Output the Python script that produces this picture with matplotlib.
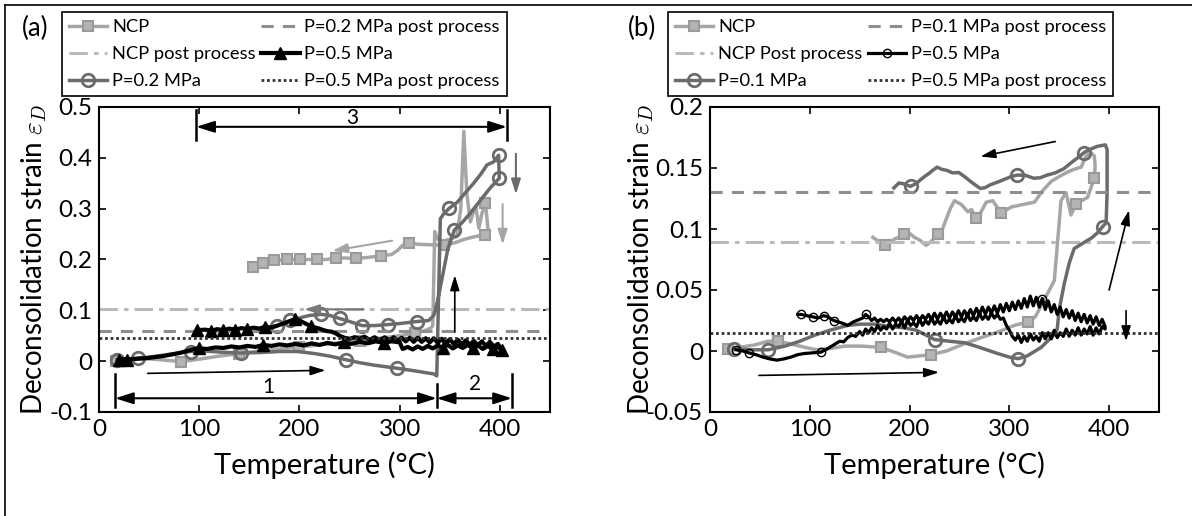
import numpy as np
import matplotlib
matplotlib.use('Agg')
import matplotlib.pyplot as plt
from matplotlib.lines import Line2D

plt.rcParams['font.family'] = ['Lato', 'DejaVu Sans']
plt.rcParams['mathtext.fontset'] = 'cm'

# ---------------- panel (a) data ----------------
# NCP
ncp_a_heat_T = [17, 30, 45, 60, 82, 100, 120, 140, 160, 180, 200, 220, 240, 260, 280, 300, 315, 325, 331,
                333, 335, 338, 342, 350, 357, 361, 364, 367, 370.5, 373, 376, 379, 382, 385.5, 388.7]
ncp_a_heat_y = [0.0, 0.002, 0.005, 0.003, -0.001, 0.004, 0.01, 0.015, 0.02, 0.024, 0.028, 0.032, 0.036, 0.04,
                0.045, 0.05, 0.055, 0.06, 0.065, 0.07, 0.255, 0.24, 0.235, 0.24, 0.245, 0.3, 0.452, 0.33, 0.274,
                0.29, 0.305, 0.262, 0.29, 0.312, 0.249]
ncp_a_cool_T = [385.5, 375, 365, 355, 344, 330, 318, 309, 303, 298, 292, 281, 268, 256, 246, 236, 227, 218,
                210, 201, 195, 188, 181, 175, 169, 164, 158, 154]
ncp_a_cool_y = [0.249, 0.245, 0.24, 0.233, 0.228, 0.229, 0.23, 0.233, 0.228, 0.218, 0.21, 0.207, 0.204, 0.202,
                0.203, 0.203, 0.2, 0.2, 0.2, 0.2, 0.2, 0.2, 0.199, 0.199, 0.196, 0.194, 0.19, 0.185]
ncp_a_mk_heat = [17, 82, 140, 200, 260, 320, 385.5]
ncp_a_mk_cool = [385.5, 344, 309, 281, 256, 236, 218, 201, 188, 175, 164, 154]

# P = 0.2 MPa
p02_heat_T = [17.9, 28, 38.5, 50, 65, 80, 91.6, 105, 120, 141.4, 160, 180, 198, 215, 230, 246, 260, 275, 297.5,
              315, 327, 334, 337, 338.5, 340.6, 344, 349.6, 357.2, 365, 373.8, 381, 387.1, 393.7, 398.7]
p02_heat_y = [0.003, 0.004, 0.006, 0.008, 0.012, 0.016, 0.019, 0.02, 0.018, 0.016, 0.017, 0.019, 0.019, 0.015,
              0.01, 0.003, -0.003, -0.008, -0.014, -0.019, -0.023, -0.025, -0.029, 0.1, 0.28, 0.29, 0.301, 0.312,
              0.33, 0.35, 0.368, 0.386, 0.392, 0.405]
p02_cool_T = [399.4, 390, 380, 370, 362, 354.6, 348, 343, 338, 334, 329, 317.4, 300, 288, 275, 262.6, 250, 240,
              230, 221.8, 210, 200, 191, 184, 178, 171]
p02_cool_y = [0.36, 0.34, 0.315, 0.29, 0.272, 0.258, 0.22, 0.17, 0.12, 0.09, 0.08, 0.078, 0.074, 0.072, 0.07,
              0.07, 0.078, 0.084, 0.09, 0.092, 0.09, 0.085, 0.08, 0.075, 0.07, 0.067]
p02_mk_heat = [17.9, 38.5, 91.6, 141.4, 246, 297.5, 349.6, 398.7]
p02_mk_cool = [399.4, 354.6, 317.4, 288, 262.6, 240, 221.8, 191, 178]

# P = 0.5 MPa (a)
p05a_heat_T = [20, 24, 28, 33, 40, 48, 56, 64, 72, 80, 88, 95, 100, 108, 116, 124, 132, 140, 148, 156, 164, 172,
               180, 188, 196, 204, 212, 220, 228, 236, 244, 252, 260, 268, 276, 284, 292, 300, 303, 308, 313, 318,
               323, 328, 333, 338, 343, 348, 353, 358, 363, 368, 373, 378, 383, 388, 393, 398, 402]
p05a_heat_y = [0.002, 0.004, 0.003, 0.004, 0.005, 0.006, 0.008, 0.01, 0.013, 0.016, 0.02, 0.024, 0.025, 0.024,
               0.027, 0.026, 0.029, 0.027, 0.03, 0.028, 0.032, 0.03, 0.033, 0.031, 0.034, 0.031, 0.035, 0.032,
               0.036, 0.033, 0.037, 0.034, 0.038, 0.035, 0.039, 0.036, 0.039, 0.037, 0.024, 0.028, 0.023, 0.029,
               0.024, 0.03, 0.025, 0.031, 0.026, 0.032, 0.025, 0.031, 0.026, 0.032, 0.025, 0.031, 0.024, 0.03,
               0.023, 0.028, 0.022]
p05a_cool_T = [402, 398, 394, 390, 386, 382, 378, 374, 370, 366, 362, 358, 354, 350, 346, 342, 338, 334, 330,
               326, 322, 318, 314, 310, 306, 302, 298, 294, 290, 285, 280, 275, 270, 265, 260, 255, 250, 245, 240,
               236, 232, 228, 224, 220, 216, 212, 208, 204, 200, 196, 192, 188, 184, 178, 172, 166, 160, 154, 148,
               142, 136, 130, 124, 118, 112, 106, 98]
p05a_cool_y = [0.022, 0.034, 0.028, 0.038, 0.03, 0.039, 0.031, 0.04, 0.032, 0.041, 0.033, 0.042, 0.034, 0.043,
               0.035, 0.044, 0.036, 0.045, 0.037, 0.045, 0.038, 0.046, 0.038, 0.046, 0.039, 0.046, 0.04, 0.047,
               0.04, 0.047, 0.041, 0.047, 0.042, 0.048, 0.044, 0.047, 0.044, 0.046, 0.05, 0.055, 0.058, 0.059,
               0.061, 0.064, 0.066, 0.069, 0.072, 0.076, 0.08, 0.083, 0.08, 0.077, 0.074, 0.07, 0.066, 0.068,
               0.064, 0.066, 0.063, 0.065, 0.062, 0.064, 0.061, 0.063, 0.06, 0.062, 0.061]
p05a_mk_heat = [20, 28, 100, 164, 244, 284, 343, 373, 393, 402]
p05a_mk_cool = [98, 112, 124, 136, 148, 166, 196, 212]

# post process levels (a)
ncp_post_a = 0.102
p02_post = 0.059
p05_post_a = 0.045

# ---------------- panel (b) data ----------------
ncp_b_heat_T = [18, 30, 45, 58, 68, 80, 95, 107, 120, 135, 151.6, 171, 185, 198, 210, 221, 237, 255, 272, 290,
                305, 318.4, 326, 335.1, 345.1, 351.8, 356.8, 361.8, 366.8, 372, 378.4, 385.1, 386, 385.1]
ncp_b_heat_y = [0.0016, 0.003, 0.005, 0.008, 0.008, 0.006, 0.003, 0.001, 0.002, 0.004, 0.004, 0.003, -0.001,
                -0.005, -0.004, -0.003, 0.0, 0.006, 0.011, 0.016, 0.021, 0.0238, 0.028, 0.0421, 0.0578, 0.1232,
                0.1298, 0.1115, 0.1206, 0.123, 0.1259, 0.1416, 0.152, 0.16]
ncp_b_cool_T = [381.8, 377, 372, 365, 358.6, 350, 341.9, 333, 325.2, 313, 301.8, 291.8, 283.4, 276.8, 271, 266.7,
                262, 258.4, 252, 245, 241, 238.3, 233, 228.3, 222, 216.6, 210, 204.9, 199, 194.9, 189, 184.9,
                179, 174.9, 169, 163.2]
ncp_b_cool_y = [0.1625, 0.16, 0.1507, 0.149, 0.1468, 0.143, 0.139, 0.131, 0.122, 0.12, 0.118, 0.1128, 0.1232,
                0.122, 0.113, 0.1089, 0.116, 0.1141, 0.12, 0.1232, 0.117, 0.1115, 0.1, 0.0958, 0.09, 0.0866,
                0.091, 0.0932, 0.097, 0.0958, 0.093, 0.0918, 0.088, 0.0866, 0.09, 0.0932]
ncp_b_mk_heat = [18, 68, 171, 221, 318.4, 366.8, 385.1]
ncp_b_mk_cool = [291.8, 266.7, 228.3, 194.9, 174.9]

# P = 0.1 MPa
p01_heat_T = [24.4, 40, 58.4, 75, 90, 105, 120, 138, 150, 165, 180, 195, 207, 225, 240, 255, 270, 288, 300, 309,
              318, 332, 345, 348, 350, 355, 360, 365, 375, 383, 388.5, 393.5, 397, 398]
p01_heat_y = [0.0016, 0.001, 0.001, 0.004, 0.008, 0.013, 0.017, 0.021, 0.022, 0.022, 0.02, 0.019, 0.017, 0.0094,
              0.008, 0.0068, 0.003, -0.002, -0.005, -0.0063, -0.004, 0.003, 0.0135, 0.018, 0.034, 0.055, 0.072,
              0.084, 0.089, 0.093, 0.097, 0.102, 0.105, 0.13]
p01_cool_T = [398, 396.3, 388, 380, 374.6, 371.3, 363, 354.6, 346, 337.9, 331, 324.5, 316, 307.8, 302, 297.8,
              290, 281.1, 276, 271.1, 266, 261.1, 255, 249.4, 243, 237.7, 232, 227.7, 223, 219.4, 215, 211, 206,
              201, 197, 194.3, 189.3, 184.3]
p01_cool_y = [0.165, 0.169, 0.1677, 0.165, 0.1625, 0.16, 0.155, 0.1494, 0.146, 0.1442, 0.142, 0.1416, 0.144,
              0.1442, 0.143, 0.1416, 0.139, 0.1363, 0.134, 0.1332, 0.136, 0.139, 0.143, 0.1463, 0.146, 0.148,
              0.149, 0.1507, 0.148, 0.1455, 0.143, 0.1403, 0.137, 0.135, 0.136, 0.137, 0.1377, 0.1337]
p01_mk_heat = [24.4, 58.4, 225, 309, 393.5]
p01_mk_cool = [374.6, 307.8, 201]

# P = 0.5 MPa (b)
p05b_heat_T = [26, 33, 39, 46, 53, 60, 67, 74, 81, 88, 95, 103, 111, 118, 124, 130, 134, 138, 142, 146,
               150, 153, 156, 159, 162, 165, 168, 171, 174, 177, 180, 183, 186, 189, 192, 195, 198, 201, 204,
               207, 210, 213, 216, 219, 222, 225, 228, 231, 234, 237, 240, 243, 246, 249, 252, 255, 258, 261,
               264, 267, 270, 273, 276, 279, 282, 285, 288, 291, 294, 297, 300, 303, 306, 309, 312, 315, 318,
               321, 324, 327, 330, 333, 336, 339, 342, 345, 348, 351, 354, 357, 360, 363, 366, 369, 372, 375,
               378, 381, 384, 387, 390, 393, 396]
p05b_heat_y = [0.001, 0.0, -0.0016, -0.003, -0.005, -0.0065, -0.0075, -0.0065, -0.005, -0.003, -0.002, -0.0015,
               -0.001, 0.002, 0.005, 0.008, 0.0075, 0.011, 0.013, 0.012,
               0.016, 0.013, 0.018, 0.015, 0.019, 0.016, 0.021, 0.017, 0.02, 0.018, 0.023, 0.018, 0.022, 0.02,
               0.024, 0.019, 0.025, 0.021, 0.023, 0.02, 0.026, 0.021, 0.025, 0.022, 0.027, 0.022, 0.025, 0.022,
               0.028, 0.023, 0.026, 0.023, 0.029, 0.024, 0.027, 0.024, 0.03, 0.025, 0.028, 0.025, 0.031, 0.026,
               0.029, 0.026, 0.031, 0.027, 0.03, 0.026, 0.027, 0.021, 0.017, 0.012, 0.009, 0.013, 0.007, 0.012,
               0.008, 0.014, 0.009, 0.012, 0.008, 0.015, 0.01, 0.015, 0.01, 0.017, 0.011, 0.015, 0.012, 0.018,
               0.012, 0.017, 0.013, 0.019, 0.013, 0.018, 0.014, 0.02, 0.013, 0.019, 0.014, 0.02, 0.018]
p05b_cool_T = [396, 393, 390, 387, 384, 381, 378, 375, 372, 369, 366, 363, 360, 357, 354, 351, 348, 345, 342,
               339, 336, 333, 330, 327, 324, 321, 318, 315, 312, 309, 306, 303, 300, 297, 294, 291, 288, 285,
               282, 279, 276, 273, 270, 267, 264, 261, 258, 255, 252, 249, 246, 243, 240, 237, 234, 231, 228,
               225, 222, 219, 216, 213, 210, 207, 204, 201, 198, 195, 192, 189, 186, 183, 180, 177, 174, 171,
               168, 165, 162, 159, 156, 153, 150, 144, 138, 132, 124, 118, 114, 108, 103, 97, 91, 88]
p05b_cool_y = [0.02, 0.026, 0.021, 0.028, 0.022, 0.029, 0.023, 0.03, 0.024, 0.031, 0.025, 0.033, 0.027, 0.034,
               0.028, 0.036, 0.03, 0.038, 0.032, 0.041, 0.034, 0.043, 0.036, 0.044, 0.037, 0.045, 0.036, 0.043,
               0.035, 0.041, 0.034, 0.04, 0.033, 0.039, 0.032, 0.038, 0.031, 0.037, 0.031, 0.036, 0.03, 0.036,
               0.03, 0.035, 0.029, 0.034, 0.029, 0.033, 0.028, 0.033, 0.028, 0.032, 0.027, 0.032, 0.027, 0.031,
               0.026, 0.031, 0.026, 0.03, 0.026, 0.029, 0.025, 0.029, 0.025, 0.028, 0.025, 0.028, 0.024, 0.027,
               0.024, 0.027, 0.024, 0.026, 0.024, 0.026, 0.024, 0.027, 0.025, 0.028, 0.03, 0.027, 0.026, 0.024,
               0.021, 0.023, 0.025, 0.028, 0.029, 0.027, 0.028, 0.029, 0.03, 0.03]
p05b_mk_heat = [26, 39, 111]
p05b_mk_cool = [333, 156, 124, 114, 103, 91]

ncp_post_b = 0.089
p01_post = 0.13
p05_post_b = 0.015

# axes ticks / labels
temp_ticks = [0, 100, 200, 300, 400]
a_yticks = [-0.1, 0, 0.1, 0.2, 0.3, 0.4, 0.5]
a_ylabels = ['-0.1', '0', '0.1', '0.2', '0.3', '0.4', '0.5']
b_yticks = [-0.05, 0, 0.05, 0.1, 0.15, 0.2]
b_ylabels = ['-0.05', '0', '0.05', '0.1', '0.15', '0.2']

# zone arrows of panel (a): (start, end, y, label)
zones = [(16, 337, -0.073, '1'), (337, 412, -0.073, '2'), (97, 407, 0.461, '3')]
zone_bars = [(16, -0.025, -0.09), (337, -0.045, -0.09), (412, -0.025, -0.09),
             (97, 0.436, 0.494), (407, 0.436, 0.494)]
zone_text = [(169, -0.051), (375, -0.045), (253, 0.479)]

c_ncp = '#a6a6a6'
c_p1 = '#6b6b6b'
c_dash = '#8e8e8e'
c_dd = '#bababa'


def marks(hT, cT, mh, mc):
    h = np.asarray(hT)
    c = np.asarray(cT)
    idx = [int(np.argmin(abs(h - t))) for t in mh]
    idx += [len(h) + int(np.argmin(abs(c - t))) for t in mc]
    return sorted(set(idx))


def arrow(ax, x0, y0, x1, y1, color='k', lw=1.2):
    ax.annotate('', xy=(x1, y1), xytext=(x0, y0),
                arrowprops=dict(arrowstyle='-|>,head_length=0.9,head_width=0.28', color=color, lw=lw,
                                shrinkA=0, shrinkB=0))


def style_axes(ax):
    ax.set_xlim(0, 450)
    ax.set_xticks(temp_ticks)
    ax.tick_params(direction='in', top=True, right=True, length=5, width=1.2, labelsize=17.5, pad=5)
    for s in ax.spines.values():
        s.set_linewidth(1.5)
    ax.set_xlabel('Temperature (°C)', fontsize=21, labelpad=8)


def add_legend(ax, handles, labels, x0):
    leg = ax.legend(handles, labels, ncol=2, loc='upper left', bbox_to_anchor=(x0 / 1192, 1 - 12 / 516),
                    bbox_transform=fig.transFigure, borderaxespad=0, fontsize=13.2, fancybox=False,
                    edgecolor='k', framealpha=1, handlelength=2.1, handletextpad=0.25, columnspacing=0.3,
                    labelspacing=0.6, borderpad=0.38, numpoints=1)
    leg.get_frame().set_linewidth(1.2)
    return leg


fig = plt.figure(figsize=(11.92, 5.16), dpi=100)
ax1 = fig.add_axes([99 / 1192, (516 - 412) / 516, 451 / 1192, 305 / 516])
ax2 = fig.add_axes([710 / 1192, (516 - 412) / 516, 449 / 1192, 305 / 516])

# ---------- (a) ----------
l_ncp, = ax1.plot(ncp_a_heat_T + ncp_a_cool_T, ncp_a_heat_y + ncp_a_cool_y, color=c_ncp, lw=2.5,
                  marker='s', ms=7, mfc='#b4b4b4', mec='#9a9a9a', mew=1.5,
                  markevery=marks(ncp_a_heat_T, ncp_a_cool_T, ncp_a_mk_heat, ncp_a_mk_cool))
l_ncpp = ax1.axhline(ncp_post_a, color=c_dd, lw=2.2, ls=(0, (6, 2, 1.5, 2)))
l_p02, = ax1.plot(p02_heat_T + p02_cool_T, p02_heat_y + p02_cool_y, color=c_p1, lw=2.5,
                  marker='o', ms=9, mfc='none', mec=c_p1, mew=2,
                  markevery=marks(p02_heat_T, p02_cool_T, p02_mk_heat, p02_mk_cool))
l_p02p = ax1.axhline(p02_post, color=c_dash, lw=2.2, ls=(0, (4, 3)))
l_p05, = ax1.plot(p05a_heat_T + p05a_cool_T, p05a_heat_y + p05a_cool_y, color='k', lw=3,
                  marker='^', ms=8, mfc='k', mec='k',
                  markevery=marks(p05a_heat_T, p05a_cool_T, p05a_mk_heat, p05a_mk_cool))
l_p05p = ax1.axhline(p05_post_a, color='#333333', lw=2, ls=(0, (1, 1)))

ax1.set_ylim(-0.1, 0.5)
ax1.set_yticks(a_yticks)
ax1.set_yticklabels(a_ylabels)
style_axes(ax1)
ax1.set_ylabel(r'Deconsolidation strain $\varepsilon_D$', fontsize=20)
ax1.yaxis.set_label_coords(-0.11, 0.5)

for (x0, x1, y, t), (tx, ty) in zip(zones, zone_text):
    ax1.annotate('', xy=(x1, y), xytext=(x0, y),
                 arrowprops=dict(arrowstyle='<|-|>,head_length=1.1,head_width=0.35', color='k', lw=1.5,
                                 shrinkA=0, shrinkB=0))
    ax1.text(tx, ty, t, ha='center', va='center', fontsize=15)
for x, y0, y1 in zone_bars:
    ax1.plot([x, x], [y0, y1], color='k', lw=1.8)

arrow(ax1, 48.5, -0.024, 226, -0.018)
arrow(ax1, 355, 0.057, 355, 0.169)
arrow(ax1, 416, 0.408, 416, 0.328, color=c_p1, lw=1.5)
arrow(ax1, 402.7, 0.309, 402.7, 0.229, color=c_ncp, lw=1.5)
arrow(ax1, 292.5, 0.237, 232.7, 0.217, color=c_ncp, lw=1.5)
arrow(ax1, 264, 0.102, 204.5, 0.102, color='#7a7a7a', lw=1.5)

add_legend(ax1, [l_ncp, l_ncpp, l_p02, l_p02p, l_p05, l_p05p],
           ['NCP', 'NCP post process', 'P=0.2 MPa', 'P=0.2 MPa post process', 'P=0.5 MPa',
            'P=0.5 MPa post process'], 62)

# ---------- (b) ----------
m_ncp, = ax2.plot(ncp_b_heat_T + ncp_b_cool_T, ncp_b_heat_y + ncp_b_cool_y, color=c_ncp, lw=2.5,
                  marker='s', ms=7, mfc='#b4b4b4', mec='#9a9a9a', mew=1.5,
                  markevery=marks(ncp_b_heat_T, ncp_b_cool_T, ncp_b_mk_heat, ncp_b_mk_cool))
m_ncpp = ax2.axhline(ncp_post_b, color=c_dd, lw=2.2, ls=(0, (6, 2, 1.5, 2)))
m_p01, = ax2.plot(p01_heat_T + p01_cool_T, p01_heat_y + p01_cool_y, color=c_p1, lw=2.5,
                  marker='o', ms=9, mfc='none', mec=c_p1, mew=2,
                  markevery=marks(p01_heat_T, p01_cool_T, p01_mk_heat, p01_mk_cool))
m_p01p = ax2.axhline(p01_post, color=c_dash, lw=2.2, ls=(0, (4, 3)))
m_p05, = ax2.plot(p05b_heat_T + p05b_cool_T, p05b_heat_y + p05b_cool_y, color='k', lw=2.3,
                  marker='o', ms=6, mfc='none', mec='k', mew=1,
                  markevery=marks(p05b_heat_T, p05b_cool_T, p05b_mk_heat, p05b_mk_cool))
m_p05p = ax2.axhline(p05_post_b, color='#333333', lw=2, ls=(0, (1, 1)))

ax2.set_ylim(-0.05, 0.2)
ax2.set_yticks(b_yticks)
ax2.set_yticklabels(b_ylabels)
style_axes(ax2)
ax2.set_ylabel(r'Deconsolidation strain $\varepsilon_D$', fontsize=20)
ax2.yaxis.set_label_coords(-0.12, 0.5)

arrow(ax2, 346, 0.1717, 271, 0.1594)
arrow(ax2, 400, 0.050, 420, 0.1155)
arrow(ax2, 417, 0.033, 417, 0.008)
arrow(ax2, 49, -0.020, 229.6, -0.0175)

add_legend(ax2, [m_ncp, m_ncpp, m_p01, m_p01p, m_p05, m_p05p],
           ['NCP', 'NCP Post process', 'P=0.1 MPa', 'P=0.1 MPa post process', 'P=0.5 MPa',
            'P=0.5 MPa post process'], 668)

fig.text(22 / 1192, 1 - 28 / 516, '(a)', fontsize=18.5, va='center')
fig.text(628 / 1192, 1 - 28 / 516, '(b)', fontsize=18.5, va='center')

# outer frame (left and top edges)
fig.add_artist(Line2D([5 / 1192, 5 / 1192], [0, 1 - 5 / 516], transform=fig.transFigure, color='k', lw=1.2))
fig.add_artist(Line2D([5 / 1192, 1], [1 - 5 / 516, 1 - 5 / 516], transform=fig.transFigure, color='k', lw=1.2))

fig.savefig('out.png', dpi=100)
